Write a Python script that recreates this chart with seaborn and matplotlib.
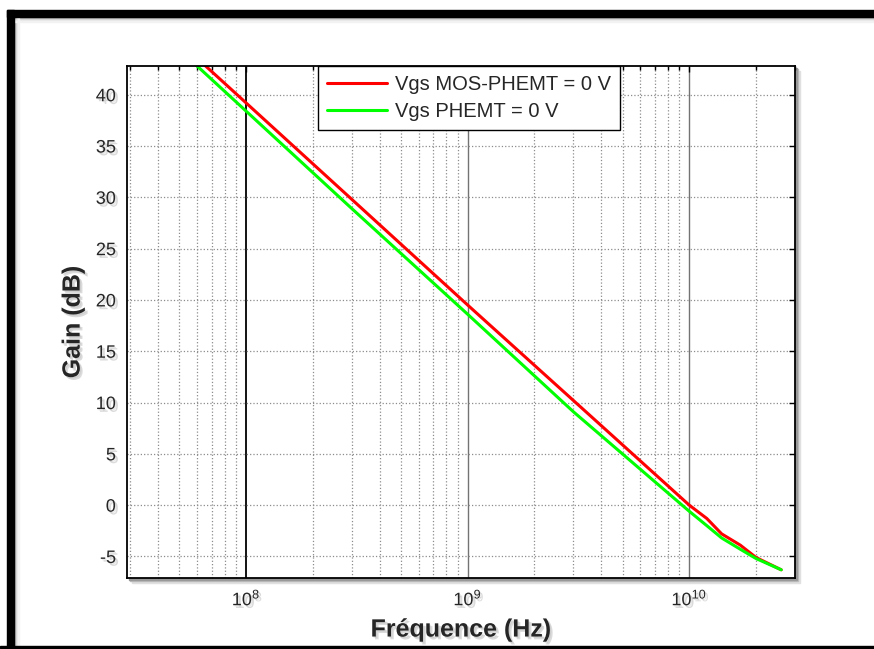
import numpy as np
import pandas as pd
import matplotlib
matplotlib.use("Agg")
import matplotlib.pyplot as plt
import matplotlib.patheffects as pe
from matplotlib.patches import Rectangle
from matplotlib.ticker import LogLocator, NullFormatter
import seaborn as sns

# frequency points (Hz)
freq = [3e7, 1e8, 3e8, 1e9, 3e9, 1e10, 1.2e10, 1.4e10, 1.7e10, 2e10, 2.6e10]
# gain (dB)
gain_mos = [49.5, 39.2, 29.8, 19.5, 10.2, 0.0, -1.3, -2.8, -3.9, -5.1, -6.3]
gain_phemt = [48.8, 38.4, 28.9, 18.6, 9.1, -0.6, -2.0, -3.2, -4.3, -5.2, -6.3]
labels = ["Vgs MOS-PHEMT = 0 V", "Vgs PHEMT = 0 V"]

df = pd.DataFrame({
    "freq": freq * 2,
    "gain": gain_mos + gain_phemt,
    "serie": [labels[0]] * len(freq) + [labels[1]] * len(freq),
})

sns.set_style("white")
plt.rcParams["font.family"] = ["Liberation Sans", "DejaVu Sans"]
plt.rcParams["axes.unicode_minus"] = False

W, H = 874, 649
fig = plt.figure(figsize=(W / 100, H / 100), dpi=100)
ax = fig.add_axes([127 / W, 1 - 578 / H, (795 - 127) / W, (578 - 66) / H])

# soft text shadow
shadow = [pe.SimplePatchShadow(offset=(2, -2), shadow_rgbFace="0.6", alpha=0.35),
          pe.SimplePatchShadow(offset=(1, -1), shadow_rgbFace="0.7", alpha=0.3),
          pe.Normal()]

# axes drop shadow
for k, g in [(5, "0.88"), (3, "0.75"), (2, "0.6")]:
    fig.patches.append(Rectangle(((127 + k) / W, 1 - (578 + k) / H), (795 - 127) / W, (578 - 66) / H,
                                 transform=fig.transFigure, color=g, zorder=-2))
ax.set_facecolor("white")

sns.lineplot(data=df, x="freq", y="gain", hue="serie", palette=["#ff0000", "#00ff00"],
             linewidth=2.2, ax=ax, legend=True)
ax.set_xscale("log")
ax.set_xlim(2.9e7, 3.0e10)
ax.set_ylim(-7.1, 42.8)
ax.set_yticks(np.arange(-5, 41, 5))

ax.xaxis.set_major_locator(LogLocator(base=10, numticks=10))
ax.xaxis.set_minor_locator(LogLocator(base=10, subs=np.arange(2, 10), numticks=30))
ax.xaxis.set_minor_formatter(NullFormatter())

ax.grid(True, which="major", axis="y", color="0.55", linestyle=":", linewidth=0.9)
ax.grid(True, which="minor", axis="x", color="0.55", linestyle=":", linewidth=0.9)
ax.grid(True, which="major", axis="x", color="0.45", linestyle="-", linewidth=1.0)
# first decade line is drawn darker in the original
for line, tick in zip(ax.get_xgridlines(), ax.get_xticks()):
    if np.isclose(tick, 1e8):
        line.set_color("black")
        line.set_linewidth(1.3)

ax.tick_params(which="both", direction="in", top=True, right=True, labelsize=13, width=1, color="black")
ax.tick_params(which="major", length=4, pad=8)
ax.tick_params(which="minor", length=3)
for s in ax.spines.values():
    s.set_color("black")
    s.set_linewidth(1.3)

for t in ax.get_xticklabels() + ax.get_yticklabels():
    t.set_path_effects(shadow)

ax.set_xlabel("Fréquence (Hz)", fontsize=18, fontweight="bold", labelpad=6, path_effects=shadow)
ax.set_ylabel("Gain (dB)", fontsize=18, fontweight="bold", labelpad=8, path_effects=shadow)

leg = ax.legend(loc="upper center", bbox_to_anchor=(0.512, 1.0), fontsize=14.5, frameon=True,
                fancybox=False, framealpha=1, edgecolor="black", borderaxespad=0,
                handlelength=3.0, handletextpad=0.4, borderpad=0.45, labelspacing=0.4)
leg.get_frame().set_linewidth(1.0)
leg.set_title(None)

# black screenshot frame
fig.patches.append(Rectangle((7 / W, 1 - 17 / H), 1, 7 / H, transform=fig.transFigure, color="black"))
fig.patches.append(Rectangle((7 / W, 0), 7 / W, 1 - 10 / H, transform=fig.transFigure, color="black"))
fig.patches.append(Rectangle((0, 1 / H), 1, 2 / H, transform=fig.transFigure, color="black"))
for i, g in enumerate([0.55, 0.7, 0.82, 0.9, 0.95]):
    fig.patches.append(Rectangle((14 / W, 1 - (18 + i) / H), 1, 1 / H, transform=fig.transFigure,
                                 color=str(g), zorder=-3))
    fig.patches.append(Rectangle(((14 + i) / W, 3 / H), 1 / W, 1 - 21 / H, transform=fig.transFigure,
                                 color=str(g), zorder=-3))

fig.savefig("out.png", dpi=100)
